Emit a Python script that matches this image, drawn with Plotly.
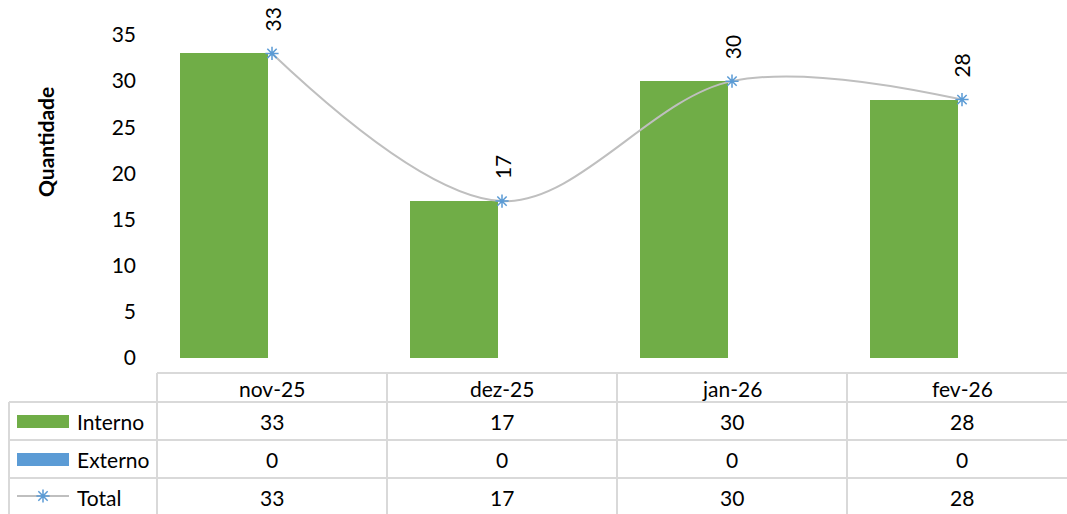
import plotly.graph_objects as go

categories = ["nov-25", "dez-25", "jan-26", "fev-26"]
interno = [33, 17, 30, 28]
externo = [0, 0, 0, 0]
total = [33, 17, 30, 28]
series_names = ["Interno", "Externo", "Total"]
y_ticks = [0, 5, 10, 15, 20, 25, 30, 35]

W, H = 1067, 514
FONT = "Lato"
FS = 21
GREEN = "#70AD47"
BLUE = "#5B9BD5"
LINE_GRAY = "#BFBFBF"
GRID = "#D9D9D9"

# pixel layout of plot area
PL, PR, PT, PB = 157, 1067, 35, 358
CAT_W = 230.0

fig = go.Figure()

fig.add_trace(go.Bar(
    x=list(range(len(categories))), y=interno, name="Interno",
    marker=dict(color=GREEN, line=dict(width=0)),
    width=0.383, offset=-0.402, xaxis="x", yaxis="y",
))
fig.add_trace(go.Bar(
    x=list(range(len(categories))), y=externo, name="Externo",
    marker=dict(color=BLUE, line=dict(width=0)),
    width=0.383, offset=0.02, xaxis="x", yaxis="y",
))
fig.add_trace(go.Scatter(
    x=list(range(len(categories))), y=total, name="Total", mode="lines+markers",
    line=dict(color=LINE_GRAY, width=2, shape="spline", smoothing=1),
    marker=dict(symbol="asterisk-open", size=11, color=BLUE,
                line=dict(color=BLUE, width=1.5)),
    xaxis="x", yaxis="y", cliponaxis=False,
))

# legend key marker in the table (pixel axes)
fig.add_trace(go.Scatter(
    x=[43], y=[496], mode="markers",
    marker=dict(symbol="asterisk-open", size=11, color=BLUE,
                line=dict(color=BLUE, width=1.5)),
    xaxis="x2", yaxis="y2", hoverinfo="skip", showlegend=False, cliponaxis=False,
))

x_right = -0.5 + (PR - PL) / CAT_W

fig.update_layout(
    width=W, height=H,
    margin=dict(l=0, r=0, t=0, b=0, pad=0),
    paper_bgcolor="white", plot_bgcolor="rgba(0,0,0,0)",
    showlegend=False,
    bargap=0, barmode="overlay",
    font=dict(family=FONT, size=FS, color="black"),
    xaxis=dict(domain=[PL / W, 1], range=[-0.5, x_right], showticklabels=False,
               showgrid=False, zeroline=False, showline=False, ticks="", anchor="y",
               automargin=False),
    yaxis=dict(domain=[(H - PB) / H, (H - PT) / H], range=[0, 35], anchor="x",
               tickvals=y_ticks, showgrid=False, zeroline=False, showline=False,
               ticks="", ticklabelstandoff=20, automargin=False,
               tickfont=dict(family=FONT, size=FS, color="black")),
    xaxis2=dict(domain=[0, 1], range=[0, W], visible=False, anchor="y2", automargin=False),
    yaxis2=dict(domain=[0, 1], range=[H, 0], visible=False, anchor="x2", automargin=False),
)

shapes = []
ann = []

def hline(x0, x1, y, xref="x2"):
    shapes.append(dict(type="line", xref=xref, yref="y2", x0=x0, x1=x1, y0=y, y1=y,
                       line=dict(color=GRID, width=2)))

def vline(x, y0, y1, xref="x2"):
    shapes.append(dict(type="line", xref=xref, yref="y2", x0=x, x1=x, y0=y0, y1=y1,
                       line=dict(color=GRID, width=2)))

hline(PL, W, 373)
for yy in [402, 440, 478]:
    hline(9, W, yy)
vline(9, 402, H + 2)
vline(PL, 373, H + 2)
for i in range(1, len(categories)):
    vline(i - 0.5, 373, H + 2, xref="x")

# legend keys
shapes.append(dict(type="rect", xref="x2", yref="y2", x0=17, x1=69, y0=415, y1=428,
                   fillcolor=GREEN, line=dict(width=0)))
shapes.append(dict(type="rect", xref="x2", yref="y2", x0=17, x1=69, y0=453, y1=466,
                   fillcolor=BLUE, line=dict(width=0)))
shapes.append(dict(type="line", xref="x2", yref="y2", x0=17, x1=69, y0=496, y1=496,
                   line=dict(color=LINE_GRAY, width=2), layer="below"))

row_y = [421, 459, 497]
for name, yy in zip(series_names, row_y):
    ann.append(dict(x=75, y=yy, xref="x2", yref="y2", text=name, showarrow=False,
                    xanchor="left", yanchor="middle", font=dict(family=FONT, size=FS)))

for i, c in enumerate(categories):
    ann.append(dict(x=i, y=388, xref="x", yref="y2", text=c, showarrow=False,
                    xanchor="center", yanchor="middle", font=dict(family=FONT, size=FS)))
    for vals, yy in zip([interno, externo, total], row_y):
        ann.append(dict(x=i, y=yy, xref="x", yref="y2", text=str(vals[i]), showarrow=False,
                        xanchor="center", yanchor="middle", font=dict(family=FONT, size=FS)))
    # data labels
    ann.append(dict(x=i, y=total[i], xref="x", yref="y", text=str(total[i]), showarrow=False,
                    textangle=-90, xanchor="center", yanchor="middle", yshift=34,
                    font=dict(family=FONT, size=FS)))

ann.append(dict(x=45, y=142, xref="x2", yref="y2", text="<b>Quantidade</b>", showarrow=False,
                textangle=-90, xanchor="center", yanchor="middle",
                font=dict(family=FONT, size=FS)))

fig.update_layout(shapes=shapes, annotations=ann)
fig.write_html(
    "out.html",
    config={"displayModeBar": False},
    post_script="document.body.style.margin='0';document.body.style.overflow='hidden';",
)
